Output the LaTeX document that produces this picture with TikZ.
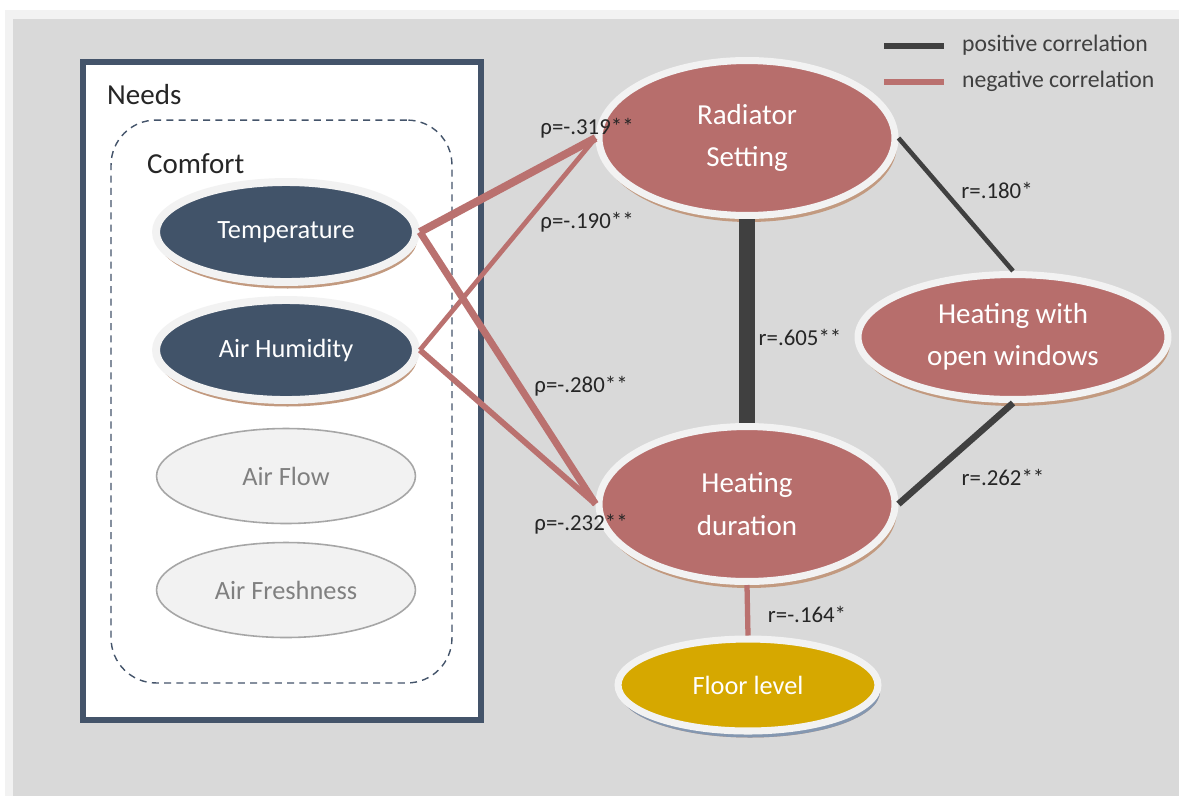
\documentclass[tikz,border=0pt]{standalone}
\usepackage{fontspec}
\setmainfont{Carlito}
\usepackage{xcolor}
\usepackage{tikz}
\usetikzlibrary{shapes.geometric, shadows, positioning}
\definecolor{needsblue}{HTML}{44546A}
\definecolor{comfortblue}{HTML}{415369}
\definecolor{effectred}{HTML}{B76E6C}
\definecolor{negred}{HTML}{BA716F}
\definecolor{posgray}{HTML}{404040}
\definecolor{ringwhite}{HTML}{F2F2F2}
\definecolor{bggray}{HTML}{D9D9D9}
\definecolor{shadowbrown}{HTML}{C29A80}
\definecolor{shadowblue}{HTML}{8497B0}
\definecolor{floorgold}{HTML}{D6A800}
\definecolor{fadedgray}{HTML}{A6A6A6}
\definecolor{fadedtext}{HTML}{808080}
\definecolor{labeltext}{HTML}{262626}

\begin{document}
\begin{tikzpicture}[
    x=0.02cm, y=-0.02cm,
    needsframe/.style={rectangle, draw=needsblue, fill=white, line width=3.4pt, inner sep=0pt},
    comfortframe/.style={rectangle, draw=needsblue, line width=0.8pt, dash pattern=on 4pt off 3pt, rounded corners=0.9cm, inner sep=0pt},
    need/.style={ellipse, draw=ringwhite, line width=4.5pt, fill=comfortblue, text=white, minimum width=5.2cm, minimum height=2cm, inner sep=0pt, font=\fontsize{15}{18}\selectfont, general shadow={shadow xshift=0.03cm, shadow yshift=-0.13cm, fill=shadowbrown}},
    unused/.style={ellipse, draw=fadedgray, line width=0.9pt, fill=ringwhite, text=fadedtext, minimum width=5.18cm, minimum height=1.9cm, inner sep=0pt, font=\fontsize{15}{18}\selectfont},
    effect/.style={ellipse, draw=ringwhite, line width=4pt, fill=effectred, text=white, align=center, inner sep=0pt, font=\fontsize{16.5}{24}\selectfont, general shadow={shadow xshift=0.04cm, shadow yshift=-0.13cm, fill=shadowbrown}},
    corr/.style={text=labeltext, font=\fontsize{13}{15}\selectfont, inner sep=1pt},
    negline/.style={draw=negred},
    posline/.style={draw=posgray}
]

% Canvas
\useasboundingbox (0,0) rectangle (1179,796);
\fill[white] (0,0) rectangle (1179,796);
\fill[ringwhite] (5,10) rectangle (1179,796);
\fill[bggray] (13,19) rectangle (1179,796);

% Needs
\node[needsframe, minimum width=7.96cm, minimum height=13.16cm] (needs) at (282,391) {};
\node[anchor=west, text=labeltext, font=\fontsize{16.5}{20}\selectfont] (needslabel) at (101,95) {Needs};
\node[comfortframe, minimum width=6.82cm, minimum height=11.26cm] (comfort) at (281.5,401.5) {};
\node[anchor=west, text=labeltext, font=\fontsize{16.5}{20}\selectfont] (comfortlabel) at (141,164) {Comfort};

\node[need] (temp) at (286,232) {Temperature};
\node[need] (humid) at (286,350) {Air Humidity};
\node[unused] (flow) at (286,476) {Air Flow};
\node[unused] (fresh) at (286,590) {Air Freshness};

% Effects
\node[effect, minimum width=5.92cm, minimum height=3.1cm] (radiator) at (747,138) {Radiator\\Setting};
\node[effect, minimum width=6.2cm, minimum height=2.5cm] (windows) at (1013,337) {Heating with\\open windows};
\node[effect, minimum width=5.92cm, minimum height=3.1cm] (duration) at (747,504) {Heating\\duration};
\node[effect, fill=floorgold, minimum width=5.2cm, minimum height=1.84cm, font=\fontsize{15}{18}\selectfont,
      general shadow={shadow xshift=0.04cm, shadow yshift=-0.13cm, fill=shadowblue}] (floor) at (748,685) {Floor level};

% Legend
\coordinate (posA) at (884,46);
\coordinate (posB) at (944,46);
\coordinate (negA) at (884,82);
\coordinate (negB) at (944,82);
\draw[posline, line width=3pt] (posA) -- (posB);
\draw[negline, line width=3pt] (negA) -- (negB);
\node[anchor=west, text=posgray, font=\fontsize{13.5}{16}\selectfont] (poslabel) at (956,45) {positive correlation};
\node[anchor=west, text=posgray, font=\fontsize{13.5}{16}\selectfont] (neglabel) at (956,81) {negative correlation};

% Correlations
\draw[negline, line width=4.5pt] (temp.east) -- (radiator.west);
\draw[negline, line width=2.7pt] (humid.east) -- (radiator.west);
\draw[negline, line width=4pt] (temp.east) -- (duration.west);
\draw[negline, line width=3.3pt] (humid.east) -- (duration.west);
\draw[posline, line width=8.6pt] (radiator.south) -- (duration.north);
\draw[posline, line width=2.6pt] (radiator.east) -- (windows.north);
\draw[posline, line width=3.7pt] (windows.south) -- (duration.east);
\draw[negline, line width=3pt] (duration.south) -- (floor.north);

\node[corr] (rho319) at (587,128) {ρ=-.319**};
\node[corr] (rho190) at (587,222) {ρ=-.190**};
\node[corr] (rho280) at (581,386) {ρ=-.280**};
\node[corr] (rho232) at (581,524) {ρ=-.232**};
\node[corr] (r605) at (800,337) {r=.605**};
\node[corr] (r180) at (997,190) {r=.180*};
\node[corr] (r262) at (1003,477) {r=.262**};
\node[corr] (r164) at (807,614) {r=-.164*};

\end{tikzpicture}
\end{document}
